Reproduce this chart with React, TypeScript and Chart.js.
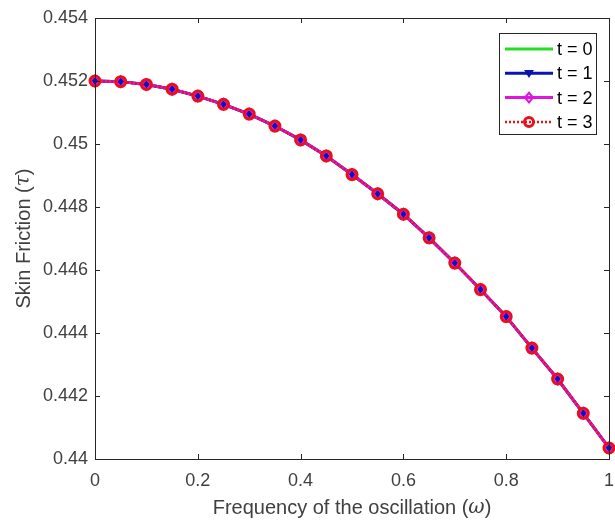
import React, { useEffect, useRef } from "react";
import { Chart, registerables } from "chart.js";

Chart.register(...registerables);

const omega = [0, 0.05, 0.1, 0.15, 0.2, 0.25, 0.3, 0.35, 0.4, 0.45, 0.5, 0.55, 0.6, 0.65, 0.7, 0.75, 0.8, 0.85, 0.9, 0.95, 1.0];
const tau0 = [0.452, 0.45198, 0.45189, 0.45174, 0.45152, 0.45126, 0.45095, 0.45057, 0.45013, 0.44962, 0.44903, 0.44842, 0.44777, 0.44702, 0.44622, 0.44538, 0.44452, 0.44352, 0.44254, 0.44145, 0.44035];
const tau1 = tau0.slice();
const tau2 = tau0.slice();
const tau3 = tau0.slice();
const seriesLabels = ["t = 0", "t = 1", "t = 2", "t = 3"];
const xTicks = [0, 0.2, 0.4, 0.6, 0.8, 1];
const yTicks = [0.44, 0.442, 0.444, 0.446, 0.448, 0.45, 0.452, 0.454];
const xTitle = ["Frequency of the oscillation (", "ω", ")"];
const yTitle = ["Skin Friction (", "τ", ")"];

const FONT = "'Liberation Sans', Arial, sans-serif";
const AXIS = "#262626";
const TEXT = "#404040";

type Sty = { color: string; width: number; dash: number[]; marker: string | null; fill: boolean; r: number; mw: number };
const styles: Sty[] = [
  { color: "#22e01e", width: 3, dash: [], marker: null, fill: false, r: 0, mw: 0 },
  { color: "#0a14b4", width: 3, dash: [], marker: "triangle", fill: true, r: 4, mw: 1.5 },
  { color: "#e014e0", width: 3, dash: [], marker: "rectRot", fill: false, r: 4.5, mw: 2 },
  { color: "#e8101c", width: 2.5, dash: [2, 2], marker: "circle", fill: false, r: 5, mw: 3 },
];

function drawMarker(ctx: CanvasRenderingContext2D, s: Sty, x: number, y: number, scale = 1) {
  if (!s.marker) return;
  const r = s.r * scale;
  ctx.save();
  ctx.setLineDash([]);
  ctx.strokeStyle = s.color;
  ctx.fillStyle = s.color;
  ctx.lineWidth = s.mw;
  ctx.beginPath();
  if (s.marker === "circle") {
    ctx.arc(x, y, r, 0, Math.PI * 2);
  } else if (s.marker === "rectRot") {
    ctx.moveTo(x, y - r * 1.2);
    ctx.lineTo(x + r, y);
    ctx.lineTo(x, y + r * 1.2);
    ctx.lineTo(x - r, y);
    ctx.closePath();
  } else {
    ctx.moveTo(x - r, y - r * 0.7);
    ctx.lineTo(x + r, y - r * 0.7);
    ctx.lineTo(x, y + r * 0.9);
    ctx.closePath();
  }
  if (s.fill) ctx.fill();
  ctx.stroke();
  ctx.restore();
}

function drawMixed(ctx: CanvasRenderingContext2D, parts: string[], cx: number, cy: number, size: number) {
  const fonts = [`${size}px ${FONT}`, `italic ${size}px 'DejaVu Serif', serif`, `${size}px ${FONT}`];
  const widths = parts.map((p, i) => { ctx.font = fonts[i]; return ctx.measureText(p).width; });
  const total = widths.reduce((a, b) => a + b, 0);
  let x = cx - total / 2;
  ctx.textAlign = "left";
  ctx.textBaseline = "middle";
  parts.forEach((p, i) => {
    ctx.font = fonts[i];
    ctx.fillText(p, x, cy);
    x += widths[i];
  });
}

const framePlugin = {
  id: "frame",
  afterDatasetsDraw(chart: any) {
    const { ctx, chartArea: a, scales } = chart;
    ctx.save();
    ctx.strokeStyle = AXIS;
    ctx.lineWidth = 1;
    ctx.setLineDash([]);
    ctx.strokeRect(Math.round(a.left) + 0.5, Math.round(a.top) + 0.5, Math.round(a.right - a.left), Math.round(a.bottom - a.top));
    const tl = 5;
    ctx.beginPath();
    for (const v of xTicks) {
      const x = Math.round(scales.x.getPixelForValue(v)) + 0.5;
      ctx.moveTo(x, a.bottom);
      ctx.lineTo(x, a.bottom - tl);
      ctx.moveTo(x, a.top);
      ctx.lineTo(x, a.top + tl);
    }
    for (const v of yTicks) {
      const y = Math.round(scales.y.getPixelForValue(v)) + 0.5;
      ctx.moveTo(a.left, y);
      ctx.lineTo(a.left + tl, y);
      ctx.moveTo(a.right, y);
      ctx.lineTo(a.right - tl, y);
    }
    ctx.stroke();

    // axis titles
    ctx.fillStyle = TEXT;
    drawMixed(ctx, xTitle, (a.left + a.right) / 2, 508, 20);
    ctx.save();
    ctx.translate(24, (a.top + a.bottom) / 2);
    ctx.rotate(-Math.PI / 2);
    drawMixed(ctx, yTitle, 0, 0, 20);
    ctx.restore();

    // legend
    const bx = 499, by = 33, bw = 97, bh = 101;
    ctx.fillStyle = "#ffffff";
    ctx.fillRect(bx, by, bw, bh);
    ctx.strokeStyle = AXIS;
    ctx.strokeRect(bx + 0.5, by + 0.5, bw, bh);
    ctx.font = `18px ${FONT}`;
    ctx.textBaseline = "middle";
    ctx.textAlign = "left";
    seriesLabels.forEach((lab, i) => {
      const s = styles[i];
      const y = by + 16 + i * 24.3;
      ctx.save();
      ctx.strokeStyle = s.color;
      ctx.lineWidth = s.width;
      ctx.setLineDash(s.dash);
      ctx.beginPath();
      ctx.moveTo(505, y);
      ctx.lineTo(553, y);
      ctx.stroke();
      ctx.restore();
      drawMarker(ctx, s, 529, y, 0.9);
      ctx.fillStyle = "#000000";
      ctx.fillText(lab, 557, y + 1);
    });
    ctx.restore();
  },
};

const markerPlugin = {
  id: "markers",
  afterDatasetsDraw(chart: any) {
    const { ctx, scales } = chart;
    const data = [tau0, tau1, tau2, tau3];
    ctx.save();
    for (const i of [0, 1, 2, 3]) {
      const s = styles[i];
      omega.forEach((w, k) => {
        drawMarker(ctx, s, scales.x.getPixelForValue(w), scales.y.getPixelForValue(data[i][k]));
      });
    }
    ctx.restore();
  },
};

export default function App() {
  const ref = useRef<HTMLCanvasElement>(null);
  useEffect(() => {
    document.body.style.margin = "0";
    const data = [tau0, tau1, tau2, tau3];
    const chart = new Chart(ref.current as HTMLCanvasElement, {
      type: "line",
      data: {
        datasets: data.map((d, i) => ({
          label: seriesLabels[i],
          data: omega.map((w, k) => ({ x: w, y: d[k] })),
          borderColor: styles[i].color,
          borderWidth: styles[i].width,
          borderDash: styles[i].dash,
          pointRadius: 0,
          fill: false,
          tension: 0,
          clip: 8,
          order: 3 - i,
        })),
      },
      options: {
        animation: false,
        responsive: false,
        maintainAspectRatio: false,
        layout: { padding: { top: 18, right: 6, left: 0, bottom: 0 } },
        plugins: { legend: { display: false }, tooltip: { enabled: false } },
        scales: {
          x: {
            type: "linear",
            min: 0,
            max: 1,
            afterBuildTicks: (s: any) => { s.ticks = xTicks.map((v) => ({ value: v })); },
            afterFit: (s: any) => { s.height = 65; s.paddingLeft = 0; s.paddingRight = 0; },
            grid: { display: false, drawTicks: false },
            border: { display: false },
            ticks: {
              padding: 11,
              color: TEXT,
              font: { family: FONT, size: 18 },
              maxRotation: 0,
              callback: (v: any) => String(Number(Number(v).toFixed(2))),
            },
          },
          y: {
            type: "linear",
            min: 0.44,
            max: 0.454,
            afterBuildTicks: (s: any) => { s.ticks = yTicks.map((v) => ({ value: v })); },
            afterFit: (s: any) => { s.width = 95; s.paddingTop = 0; s.paddingBottom = 0; },
            grid: { display: false, drawTicks: false },
            border: { display: false },
            ticks: {
              padding: 7,
              color: TEXT,
              font: { family: FONT, size: 18 },
              callback: (v: any) => String(Number(Number(v).toFixed(3))),
            },
          },
        },
      },
      plugins: [markerPlugin, framePlugin],
    });
    return () => chart.destroy();
  }, []);
  return <canvas ref={ref} width={615} height={524} style={{ display: "block" }} />;
}
